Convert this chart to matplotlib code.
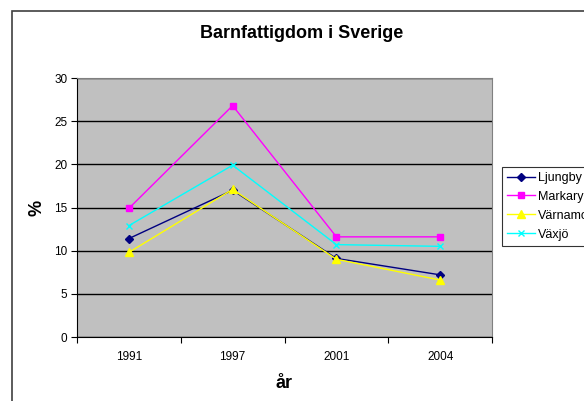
import numpy as np
import matplotlib
matplotlib.use('Agg')
from matplotlib import pyplot as plt
from matplotlib.patches import Rectangle

plt.rcParams['font.family'] = ['Liberation Sans', 'DejaVu Sans']

years = ['1991', '1997', '2001', '2004']
ljungby = [11.4, 17.0, 9.1, 7.2]
markaryd = [14.9, 26.8, 11.6, 11.6]
varnamo = [9.8, 17.1, 9.0, 6.6]
vaxjo = [12.9, 19.9, 10.7, 10.5]

fig = plt.figure(figsize=(5.84, 4.01), dpi=100)
fig.patches.append(Rectangle((12/584, -0.1), 1.2, 1 - 11/401 + 0.1, transform=fig.transFigure,
                             fill=False, edgecolor='#404040', linewidth=1.2))

ax = fig.add_axes([77/584, 64/401, 415/584, 259/401])
ax.set_facecolor('#C0C0C0')

x = np.arange(len(years))
ax.plot(x, ljungby, color='#000080', marker='D', markersize=4, linewidth=1, label='Ljungby')
ax.plot(x, markaryd, color='#FF00FF', marker='s', markersize=5, linewidth=1, label='Markaryd')
ax.plot(x, varnamo, color='#FFFF00', marker='^', markersize=5.5, linewidth=1, label='Värnamo')
ax.plot(x, vaxjo, color='#00FFFF', marker='x', markersize=5, markeredgewidth=1, linewidth=1, label='Växjö')

ax.set_xlim(-0.5, 3.5)
ax.set_ylim(0, 30)
ax.set_yticks(range(0, 31, 5))
ax.yaxis.grid(True, color='black', linewidth=1)
ax.set_axisbelow(True)
ax.set_xticks(np.arange(-0.5, 4, 1))
ax.set_xticklabels([])
ax.set_xticks(x, minor=True)
ax.set_xticklabels(years, minor=True)
ax.tick_params(axis='x', which='minor', length=0, pad=10, labelsize=8.5)
ax.tick_params(axis='x', which='major', length=4, direction='out', color='black')
ax.tick_params(axis='y', length=4, direction='out', labelsize=8.5, pad=3)

for s in ['top', 'right']:
    ax.spines[s].set_color('#808080')
for s in ['left', 'bottom']:
    ax.spines[s].set_color('black')

fig.text(302/584, 1 - 34/401, 'Barnfattigdom i Sverige', ha='center', va='center',
         fontsize=13, fontweight='bold')
fig.text(284/584, 1 - 383/401, 'år', ha='center', va='center', fontsize=13, fontweight='bold')
fig.text(37/584, 1 - 208/401, '%', ha='center', va='center', rotation=90, fontsize=13, fontweight='bold')

leg = fig.legend(loc='upper left', bbox_to_anchor=(502/584, 1 - 167/401), fontsize=9,
                 frameon=True, fancybox=False, edgecolor='black', handlelength=2.2,
                 handletextpad=0.25, borderpad=0.4, labelspacing=0.55, borderaxespad=0)
leg.get_frame().set_linewidth(0.8)

fig.savefig('out.png', dpi=100)
